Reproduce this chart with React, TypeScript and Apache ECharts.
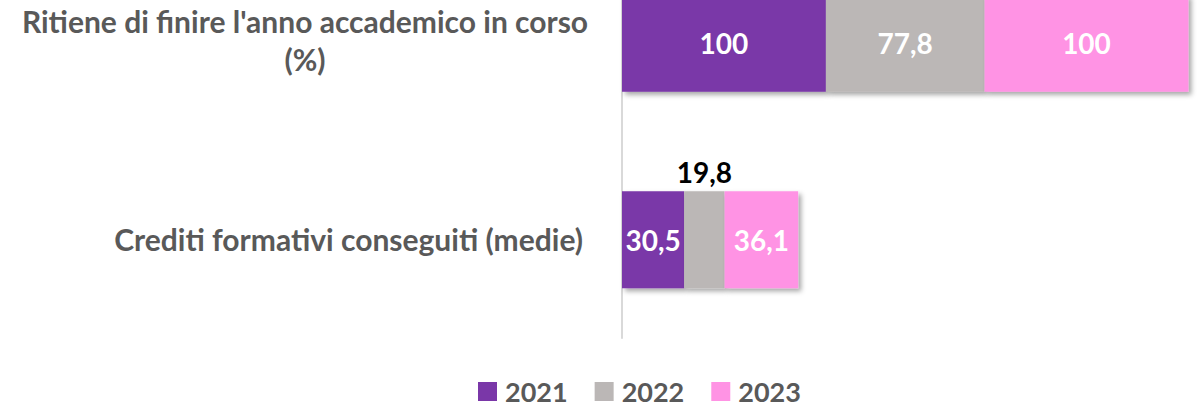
import React, { useEffect, useRef } from "react";
import * as echarts from "echarts";

const categories = [
  "Ritiene di finire l'anno accademico in corso\n(%)",
  "Crediti formativi conseguiti (medie)",
];
const seriesNames = ["2021", "2022", "2023"];
const values2021 = [100, 30.5];
const values2022 = [77.8, 19.8];
const values2023 = [100, 36.1];
const colors = ["#7A37A8", "#BBB7B6", "#FF93E4"];
// label outside (on top) for small values
const outsideLabel2022 = [false, true];

const fmt = (v: number) => String(v).replace(".", ",");

export default function App() {
  const ref = useRef<HTMLDivElement>(null);
  useEffect(() => {
    document.body.style.margin = "0";
    const chart = echarts.init(ref.current!, null, { renderer: "svg" });
    const font = "Lato, 'Open Sans', sans-serif";
    const shadow = {
      shadowBlur: 5,
      shadowOffsetX: 3,
      shadowOffsetY: 3,
      shadowColor: "rgba(0,0,0,0.35)",
    };
    const mk = (name: string, vals: number[], color: string, outside?: boolean[]) => ({
      name,
      type: "bar",
      stack: "s",
      barWidth: 97,
      itemStyle: { color, ...shadow },
      label: {
        show: true,
        position: "inside",
        color: "#fff",
        fontFamily: font,
        fontWeight: "bold",
        fontSize: 28,
        formatter: (p: any) => fmt(p.value),
      },
      data: vals.map((v, i) =>
        outside && outside[i]
          ? { value: v, label: { position: "top", color: "#000", distance: 5 } }
          : v
      ),
    });
    chart.setOption({
      animation: false,
      grid: { left: 622, width: 575, top: 0, height: 393 },
      xAxis: {
        type: "value",
        min: 0,
        max: 282,
        show: false,
      },
      yAxis: {
        type: "category",
        inverse: true,
        data: categories,
        axisLine: { show: true, lineStyle: { color: "#D9D9D9", width: 2 } },
        axisTick: { show: false },
        axisLabel: {
          margin: 32,
          align: "right",
          formatter: (v: string) =>
            v.includes("\n")
              ? v.split("\n").map((l) => `{c|${l}}`).join("\n")
              : `{n|${v}}`,
          rich: {
            c: {
              width: 570,
              align: "center",
              fontFamily: font,
              fontWeight: "bold",
              fontSize: 30,
              color: "#595959",
              lineHeight: 38,
              padding: [0, 0, 6, 0],
            },
            n: {
              fontFamily: font,
              fontWeight: "bold",
              fontSize: 30,
              color: "#595959",
              padding: [0, 7, 2, 0],
            },
          },
        },
      },
      legend: {
        top: 428,
        left: 473,
        icon: "rect",
        itemWidth: 19,
        itemHeight: 19,
        itemGap: 27,
        textStyle: {
          fontFamily: font,
          fontWeight: "bold",
          fontSize: 27,
          color: "#595959",
          padding: [0, 0, 0, 3],
        },
        data: seriesNames,
      },
      series: [
        mk(seriesNames[0], values2021, colors[0]),
        mk(seriesNames[1], values2022, colors[1], outsideLabel2022),
        mk(seriesNames[2], values2023, colors[2]),
      ],
    });
    return () => chart.dispose();
  }, []);
  return (
    <div style={{ width: 1197, height: 404, overflow: "hidden" }}>
      <div ref={ref} style={{ width: 1197, height: 459, marginTop: -55 }} />
    </div>
  );
}
